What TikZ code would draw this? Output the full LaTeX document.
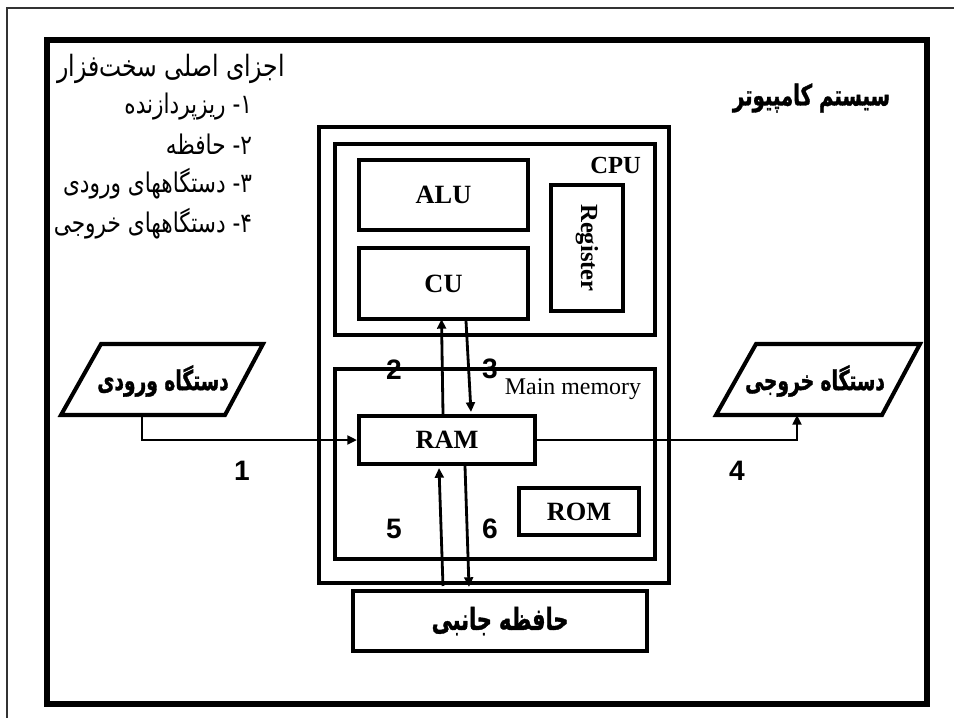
\documentclass[tikz,border=0pt]{standalone}
\usepackage{fontspec}
\setmainfont{Liberation Serif}
\newfontfamily\arabicfont[Script=Arabic, FakeStretch=0.8]{DejaVu Sans}
\newfontfamily\arabicbold[Script=Arabic, FakeStretch=0.68, FakeBold=1.2]{DejaVu Sans}
\newfontfamily\numfont{Liberation Sans}
\TeXXeTstate=1
\usetikzlibrary{arrows.meta, calc}
\tikzset{
  every picture/.style={line width=2.3pt},
  dims/.style 2 args={draw, line width=2.3pt, inner sep=0pt, minimum width=#1*0.2mm, minimum height=#2*0.2mm},
  arrow/.style={-{Triangle[length=5.5pt, width=5pt]}, line width=1.6pt},
  en/.style={font=\fontsize{#1}{#1}\selectfont\bfseries},
  en/.default=15,
  num/.style={font=\numfont\fontsize{16}{19}\selectfont\bfseries},
  fa/.style={font=\arabicbold\fontsize{#1}{#1}\selectfont\bfseries},
  fa/.default=15.6,
  falist/.style={font=\arabicfont\fontsize{#1}{#1}\selectfont, anchor=east, inner sep=0pt},
  falist/.default=15.4,
}
\begin{document}
\begin{tikzpicture}[x=0.2mm, y=-0.2mm]
  \useasboundingbox (0,0) rectangle (954,718);
  % frames
  \draw[line width=0.9pt, black!80] (954,8) -- (7,8) -- (7,718);
  \draw[line width=3.4pt] (47,40) rectangle (926.5,704);
  % hardware list
  \node[falist=16.7] (hw0) at (287,69) {\beginR اجزای اصلی سخت‌فزار\endR};
  \node[falist] (hw1) at (254,107) {\beginR ۱- ریزپردازنده\endR};
  \node[falist] (hw2) at (254,144) {\beginR ۲- حافظه\endR};
  \node[falist] (hw3) at (254,184) {\beginR ۳- دستگاههای ورودی\endR};
  \node[falist] (hw4) at (254,224) {\beginR ۴- دستگاههای خروجی\endR};
  \node[fa=16.5, anchor=east, inner sep=0pt] (title) at (892,98) {\beginR سیستم کامپیوتر\endR};
  % computer system
  \node[dims={350}{456}] (sys) at (494,355) {};
  \node[dims={320}{191}] (cpu) at (495,239.5) {};
  \node[en=14, anchor=east, inner sep=0pt] (cpulbl) at (643,165) {CPU};
  \node[dims={169}{70}, en] (alu) at (443.5,195) {ALU};
  \node[dims={169}{71}, en] (cu) at (443.5,283.5) {CU};
  \node[dims={126}{72}, en=14, rotate=-90] (reg) at (587,248) {Register};
  \node[dims={320}{190}] (mem) at (495,464) {};
  \node[anchor=east, inner sep=0pt, font=\fontsize{13.6}{13.6}\selectfont] (memlbl) at (643,389) {Main memory};
  \node[dims={176}{48}, en] (ram) at (447,440) {RAM};
  \node[dims={120}{47}, en] (rom) at (579,511.5) {ROM};
  \node[dims={294}{60}, fa=17.4] (sec) at (500,621) {\beginR حافظه جانبی\endR};
  % input / output devices
  \draw (61,415) -- (101,344) -- (263,344) -- (225,415) -- cycle;
  \node[fa] (in) at (163,381) {\beginR دستگاه ورودی\endR};
  \coordinate (inb) at (142,415);
  \draw (716,415) -- (756,344) -- (920,344) -- (882,415) -- cycle;
  \node[fa] (out) at (815,381) {\beginR دستگاه خروجی\endR};
  \coordinate (outb) at (797,415);
  % data paths
  \draw[arrow] (inb) |- (ram.west);
  \draw[arrow] (ram.east) -| (outb);
  \draw[arrow] ($(ram.north)+(-4,0)$) -- ($(cu.south)+(-2,-2)$);
  \draw[arrow] ($(cu.south)+(22.5,0)$) -- ($(ram.north)+(24,-2)$);
  \draw[arrow] ($(sec.north)+(-57,-3)$) -- ($(ram.south)+(-8,2)$);
  \draw[arrow] ($(ram.south)+(18,0)$) -- ($(sec.north)+(-31,-2)$);
  \foreach \n/\x/\y in {1/242/471, 2/394/370, 3/490/369, 4/737/471, 5/394/529, 6/490/529}
    \node[num] (n\n) at (\x,\y) {\n};
\end{tikzpicture}
\end{document}
